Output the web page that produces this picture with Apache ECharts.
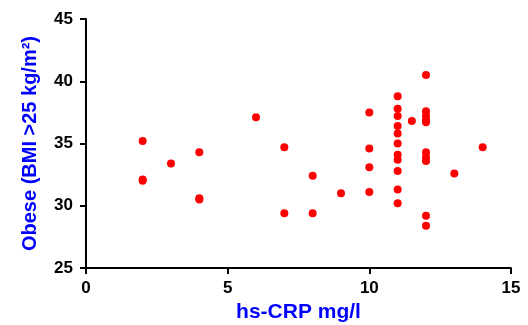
<!DOCTYPE html>
<html>
<head>
<meta charset="utf-8">
<script src="https://cdn.jsdelivr.net/npm/echarts@6/dist/echarts.min.js"></script>
<style>
  html, body { margin: 0; padding: 0; background: #fff; }
  #chart { width: 528px; height: 325px; }
</style>
</head>
<body>
<div id="chart"></div>
<script>
// hs-CRP (mg/l) vs BMI for obese subjects
const crp = [2, 2, 2, 3, 4, 4, 4, 6, 7, 7, 8, 8, 9,
  10, 10, 10, 10,
  11, 11, 11, 11, 11, 11, 11, 11, 11, 11, 11,
  11.5,
  12, 12, 12, 12, 12, 12, 12, 12, 12, 12,
  13, 14];
const bmi = [35.2, 32.0, 32.1, 33.4, 34.3, 30.5, 30.6, 37.1, 34.7, 29.4, 32.4, 29.4, 31.0,
  37.5, 34.6, 33.1, 31.1,
  38.8, 37.8, 37.2, 36.4, 35.8, 35.0, 34.1, 33.7, 32.8, 31.3, 30.2,
  36.8,
  40.5, 37.6, 37.2, 36.9, 36.7, 34.3, 33.9, 33.6, 29.2, 28.4,
  32.6, 34.7];
const xTicks = [0, 5, 10, 15];
const yTicks = [25, 30, 35, 40, 45];

const font = '"Liberation Sans", Arial, sans-serif';
const chart = echarts.init(document.getElementById('chart'));

chart.setOption({
  animation: false,
  backgroundColor: '#fff',
  grid: { left: 86, right: 17, top: 19, bottom: 57, outerBoundsMode: 'none', containLabel: false },
  xAxis: {
    type: 'value',
    min: xTicks[0],
    max: xTicks[xTicks.length - 1],
    interval: 5,
    name: 'hs-CRP mg/l',
    nameLocation: 'middle',
    nameGap: 34,
    nameTextStyle: { color: '#0000ff', fontWeight: 'bold', fontSize: 21, fontFamily: font },
    axisLine: { lineStyle: { color: '#000', width: 2 } },
    axisTick: { length: 6, lineStyle: { color: '#000', width: 2 } },
    axisLabel: { color: '#000', fontWeight: 'bold', fontSize: 17, fontFamily: font, margin: 12 },
    splitLine: { show: false }
  },
  yAxis: {
    type: 'value',
    min: yTicks[0],
    max: yTicks[yTicks.length - 1],
    interval: 5,
    name: 'Obese (BMI >25 kg/m²)',
    nameLocation: 'middle',
    nameGap: 46,
    nameTextStyle: { color: '#0000ff', fontWeight: 'bold', fontSize: 20, fontFamily: font },
    axisLine: { show: true, lineStyle: { color: '#000', width: 2 } },
    axisTick: { show: true, length: 6, lineStyle: { color: '#000', width: 2 } },
    axisLabel: { color: '#000', fontWeight: 'bold', fontSize: 17, fontFamily: font, margin: 13 },
    splitLine: { show: false }
  },
  series: [{
    type: 'scatter',
    data: crp.map((x, i) => [x, bmi[i]]),
    symbol: 'circle',
    symbolSize: 8,
    itemStyle: { color: '#ff0000', opacity: 1 }
  }]
});
</script>
</body>
</html>
